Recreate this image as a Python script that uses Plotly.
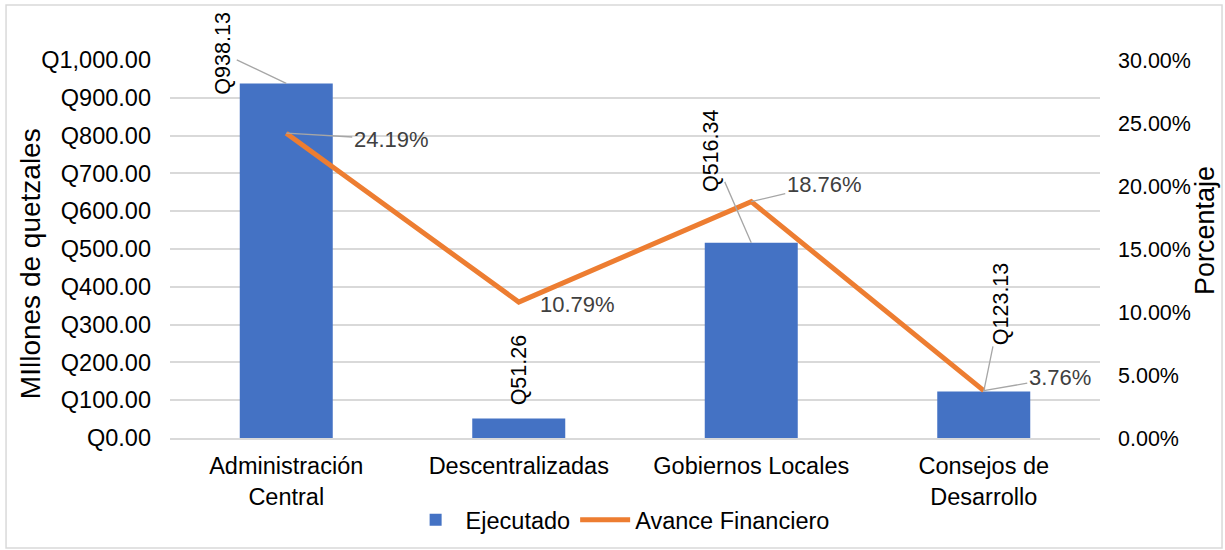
import plotly.graph_objects as go

categories = ["Administración<br>Central", "Descentralizadas", "Gobiernos Locales", "Consejos de<br>Desarrollo"]
ejecutado = [938.13, 51.26, 516.34, 123.13]
avance_pct = [24.19, 10.79, 18.76, 3.76]

bar_labels = ["Q938.13", "Q51.26", "Q516.34", "Q123.13"]
pct_labels = ["24.19%", "10.79%", "18.76%", "3.76%"]

FONT = "Liberation Sans, Arial, sans-serif"
BLUE = "#4472C4"
ORANGE = "#ED7D31"
GRID = "#d9d9d9"
LEADER = "#a6a6a6"

fig = go.Figure()
fig.add_trace(go.Bar(x=categories, y=ejecutado, name="Ejecutado", marker_color=BLUE,
                     width=0.4, yaxis="y"))
fig.add_trace(go.Scatter(x=categories, y=avance_pct, name="Avance Financiero", mode="lines",
                         line=dict(color=ORANGE, width=5), yaxis="y2"))

# label placement (pixel offsets from data point): (ax, ay, show_leader)
bar_offsets = [(-63, -30, True), (0, -49, False), (-40, -92, True), (18, -88, True)]
pct_offsets = [(105, 6, True), (59, 2, False), (73, -17, True), (76, -13, True)]

annotations = []
for cat, val, txt, (ax, ay, leader) in zip(categories, ejecutado, bar_labels, bar_offsets):
    annotations.append(dict(
        x=cat, y=val, xref="x", yref="y", text=txt, textangle=-90,
        showarrow=True, ax=ax, ay=ay, axref="pixel", ayref="pixel",
        arrowhead=0, arrowwidth=1.3, standoff=0, startstandoff=0,
        arrowcolor=LEADER if leader else "rgba(0,0,0,0)",
        font=dict(family=FONT, size=21.5, color="#000000")))
for cat, val, txt, (ax, ay, leader) in zip(categories, avance_pct, pct_labels, pct_offsets):
    annotations.append(dict(
        x=cat, y=val, xref="x", yref="y2", text=txt,
        showarrow=True, ax=ax, ay=ay, axref="pixel", ayref="pixel",
        arrowhead=0, arrowwidth=1.3, standoff=0,
        arrowcolor=LEADER if leader else "rgba(0,0,0,0)",
        font=dict(family=FONT, size=22, color="#404040")))

annotations.append(dict(text="MIllones de quetzales", x=-0.1505, y=0.46, xref="paper", yref="paper",
                        textangle=-90, showarrow=False, xanchor="center", yanchor="middle",
                        font=dict(family=FONT, size=28, color="#000000")))
annotations.append(dict(text="Porcentaje", x=1.1129, y=0.55, xref="paper", yref="paper",
                        textangle=-90, showarrow=False, xanchor="center", yanchor="middle",
                        font=dict(family=FONT, size=27, color="#000000")))

fig.update_layout(
    template="none",
    width=1225, height=550,
    margin=dict(l=170, r=125, t=60, b=112, autoexpand=False),
    paper_bgcolor="white", plot_bgcolor="white",
    font=dict(family=FONT, size=23.5, color="#000000"),
    bargap=0.6,
    showlegend=True,
    legend=dict(orientation="h", x=0.484, xanchor="center", y=-0.217, yanchor="middle",
                font=dict(family=FONT, size=23.5, color="#000000"), itemwidth=50,
                traceorder="normal", bgcolor="rgba(0,0,0,0)"),
    xaxis=dict(showline=True, linecolor=GRID, linewidth=1.5, showgrid=False, automargin=False,
               tickfont=dict(family=FONT, size=23.5, color="#000000"),
               ticks="", ticklabelstandoff=6),
    yaxis=dict(range=[0, 1000], dtick=100, tickprefix="Q", tickformat=",.2f", automargin=False,
               showgrid=True, gridcolor=GRID, gridwidth=1.5, zeroline=False,
               showline=False, ticks="", ticklabelstandoff=18,
               tickfont=dict(family=FONT, size=23.5, color="#000000")),
    yaxis2=dict(range=[0, 30], dtick=5, ticksuffix="%", tickformat=".2f", automargin=False,
                overlaying="y", side="right", showgrid=False, zeroline=False,
                showline=False, ticks="", ticklabelstandoff=17,
                tickfont=dict(family=FONT, size=21.5, color="#000000")),
    annotations=annotations,
    shapes=[dict(type="rect", xref="paper", yref="paper",
                 x0=-0.1763, x1=1.1312, y0=-0.291, y1=1.1455,
                 line=dict(color=GRID, width=1.5), fillcolor="rgba(0,0,0,0)", layer="below")],
)

fig.write_html("out.html", config={"displayModeBar": False},
               post_script="document.body.style.margin='0';document.body.style.padding='0';"
                           "document.body.style.overflow='hidden';")
